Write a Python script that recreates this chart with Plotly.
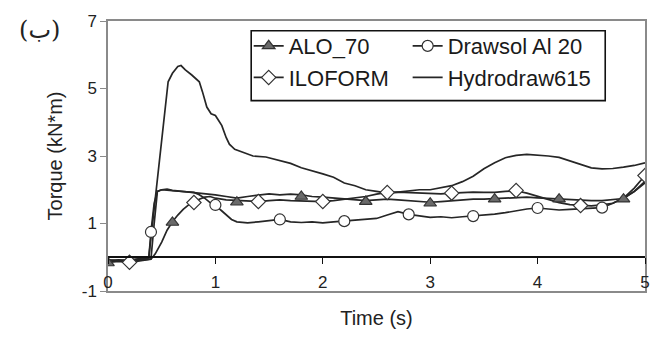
import plotly.graph_objects as go

# ---------------- data ----------------
hyd_x = [0.0, 0.1, 0.2, 0.3, 0.36, 0.38, 0.42, 0.47, 0.52, 0.56, 0.6, 0.65, 0.68, 0.72, 0.78, 0.85,
         0.88, 0.92, 0.96, 1.0, 1.03, 1.06, 1.1, 1.13, 1.18, 1.25, 1.35, 1.47, 1.6, 1.7, 1.8, 1.9,
         2.0, 2.1, 2.2, 2.3, 2.4, 2.5, 2.6, 2.7, 2.8, 2.9, 3.0, 3.1, 3.2, 3.3, 3.4, 3.5, 3.6, 3.7,
         3.8, 3.9, 4.0, 4.1, 4.2, 4.3, 4.4, 4.5, 4.6, 4.7, 4.8, 4.9, 5.0]
hyd_y = [-0.08, -0.1, -0.08, -0.05, -0.02, 0.0, 1.2, 2.5, 4.0, 5.2, 5.45, 5.65, 5.68, 5.55, 5.4, 5.2,
         4.9, 4.45, 4.25, 4.2, 4.05, 3.9, 3.55, 3.35, 3.2, 3.12, 3.0, 2.97, 2.85, 2.78, 2.65, 2.57,
         2.47, 2.37, 2.2, 2.12, 2.0, 1.95, 1.9, 1.93, 1.97, 2.0, 2.0, 2.07, 2.12, 2.24, 2.4, 2.62, 2.8, 2.95,
         3.02, 3.05, 3.03, 3.0, 2.96, 2.85, 2.74, 2.65, 2.62, 2.63, 2.67, 2.72, 2.8]

alo_x = [0.0, 0.1, 0.2, 0.3, 0.4, 0.43, 0.46, 0.5, 0.55, 0.6, 0.7, 0.8, 0.9, 1.0, 1.1, 1.2, 1.3, 1.4,
         1.5, 1.6, 1.7, 1.8, 1.9, 2.0, 2.1, 2.2, 2.3, 2.4, 2.5, 2.6, 2.7, 2.8, 2.9, 3.0, 3.1, 3.2, 3.3,
         3.4, 3.5, 3.6, 3.7, 3.8, 3.9, 4.0, 4.1, 4.2, 4.3, 4.4, 4.5, 4.6, 4.7, 4.8, 4.9, 5.0]
alo_y = [-0.12, -0.1, -0.12, -0.08, -0.05, 1.0, 1.95, 2.0, 2.02, 1.98, 1.95, 1.9, 1.88, 1.85, 1.8, 1.75, 1.8, 1.85,
         1.88, 1.85, 1.87, 1.85, 1.8, 1.78, 1.75, 1.72, 1.7, 1.68, 1.7, 1.72, 1.7, 1.68, 1.65, 1.63, 1.65, 1.68, 1.7,
         1.72, 1.72, 1.74, 1.76, 1.78, 1.78, 1.76, 1.74, 1.72, 1.7, 1.68, 1.68, 1.68, 1.7, 1.74, 1.95, 2.25]
alo_mx = [0.0, 0.6, 1.2, 1.8, 2.4, 3.0, 3.6, 4.2, 4.8]
alo_my = [-0.17, 1.03, 1.63, 1.8, 1.65, 1.6, 1.72, 1.72, 1.72]

ilo_x = [0.0, 0.1, 0.2, 0.3, 0.4, 0.44, 0.5, 0.55, 0.6, 0.65, 0.7, 0.75, 0.8, 0.85, 0.9, 0.95, 1.0, 1.1,
         1.2, 1.3, 1.4, 1.5, 1.6, 1.7, 1.8, 1.9, 2.0, 2.1, 2.2, 2.3, 2.4, 2.5, 2.6, 2.7, 2.8, 2.9, 3.0,
         3.1, 3.2, 3.3, 3.4, 3.5, 3.6, 3.7, 3.8, 3.9, 4.0, 4.1, 4.2, 4.3, 4.4, 4.5, 4.6, 4.7, 4.8, 4.9, 5.0]
ilo_y = [-0.15, -0.12, -0.15, -0.1, -0.06, 0.1, 0.45, 0.8, 1.05, 1.25, 1.42, 1.55, 1.62, 1.72, 1.78, 1.8, 1.75, 1.7,
         1.68, 1.66, 1.65, 1.68, 1.7, 1.68, 1.67, 1.65, 1.65, 1.68, 1.72, 1.75, 1.8, 1.87, 1.92, 1.93, 1.92, 1.9, 1.9,
         1.88, 1.9, 1.92, 1.93, 1.92, 1.92, 1.95, 1.97, 1.9, 1.8, 1.7, 1.62, 1.56, 1.53, 1.52, 1.55, 1.6, 1.75, 2.05, 2.42]
ilo_mx = [0.2, 0.8, 1.4, 2.0, 2.6, 3.2, 3.8, 4.4, 5.0]
ilo_my = [-0.15, 1.62, 1.65, 1.65, 1.92, 1.9, 1.98, 1.53, 2.42]

dra_x = [0.0, 0.1, 0.2, 0.3, 0.38, 0.4, 0.43, 0.46, 0.5, 0.6, 0.7, 0.8, 0.85, 0.9, 0.95, 1.0, 1.05, 1.1,
         1.15, 1.2, 1.3, 1.4, 1.5, 1.6, 1.7, 1.8, 1.9, 2.0, 2.1, 2.2, 2.3, 2.4, 2.5, 2.6, 2.7, 2.8, 2.9,
         3.0, 3.1, 3.2, 3.3, 3.4, 3.5, 3.6, 3.7, 3.8, 3.9, 4.0, 4.1, 4.2, 4.3, 4.4, 4.5, 4.6, 4.7, 4.8, 4.9, 5.0]
dra_y = [-0.1, -0.08, -0.1, -0.06, -0.02, 0.75, 1.6, 1.95, 2.0, 1.97, 1.95, 1.92, 1.85, 1.75, 1.62, 1.55, 1.4, 1.25,
         1.12, 1.05, 1.02, 1.05, 1.08, 1.12, 1.05, 1.03, 1.05, 1.02, 1.05, 1.07, 1.1, 1.12, 1.15, 1.25, 1.35, 1.27, 1.22,
         1.18, 1.2, 1.17, 1.2, 1.22, 1.25, 1.28, 1.32, 1.38, 1.43, 1.46, 1.42, 1.4, 1.42, 1.44, 1.45, 1.47, 1.6, 1.75, 1.95, 2.2]
dra_mx = [0.4, 1.0, 1.6, 2.2, 2.8, 3.4, 4.0, 4.6]
dra_my = [0.75, 1.55, 1.12, 1.07, 1.27, 1.22, 1.46, 1.47]

x_ticks = [0, 1, 2, 3, 4, 5]
y_ticks = [-1, 1, 3, 5, 7]

LINE = "#262626"
FONT = "Liberation Sans, Arial, sans-serif"

fig = go.Figure()

def line(x, y, name, legend, show=False):
    fig.add_trace(go.Scatter(x=x, y=y, mode="lines", name=name, showlegend=show,
                             legend=legend, line=dict(color=LINE, width=1.7)))

def marks(x, y, symbol, fill, size):
    fig.add_trace(go.Scatter(x=x, y=y, mode="markers", showlegend=False,
                             marker=dict(symbol=symbol, size=size, color=fill,
                                         line=dict(color="#333333", width=1.2))))

def legend_item(name, symbol, fill, size, legend, rank):
    fig.add_trace(go.Scatter(x=[None], y=[None], mode="lines+markers", name=name, legend=legend,
                             legendrank=rank,
                             line=dict(color=LINE, width=1.7),
                             marker=dict(symbol=symbol, size=size, color=fill,
                                         line=dict(color="#333333", width=1.2))))

line(hyd_x, hyd_y, "Hydrodraw615", "legend2", show=True)
fig.data[-1].legendrank = 2
line(dra_x, dra_y, "Drawsol Al 20", "legend2")
line(ilo_x, ilo_y, "ILOFORM", "legend")
line(alo_x, alo_y, "ALO_70", "legend")
marks(dra_mx, dra_my, "circle", "white", 11)
marks(ilo_mx, ilo_my, "diamond", "white", 11)
marks(alo_mx, alo_my, "triangle-up", "#6a6a6a", 11)

legend_item("ALO_70", "triangle-up", "#6a6a6a", 11, "legend", 1)
legend_item("ILOFORM", "diamond", "white", 11, "legend", 2)
legend_item("Drawsol Al 20", "circle", "white", 11, "legend2", 1)

# zero line carrying the tick marks
fig.add_trace(go.Scatter(x=[None], y=[None], xaxis="x2", showlegend=False))

legfont = dict(family=FONT, size=22, color="#1a1a1a")
fig.update_layout(
    width=662, height=338,
    margin=dict(l=108, r=14, t=16, b=44),
    paper_bgcolor="white", plot_bgcolor="white",
    font=dict(family=FONT, color="#222222"),
    xaxis=dict(range=[0, 5], tickvals=x_ticks, ticktext=[str(v) for v in x_ticks], ticks="",
               showline=True, linecolor="#8a8a8a",
               linewidth=1.5, mirror=True, showgrid=False, zeroline=False,
               ticklabelposition="inside", ticklabeloverflow="allow",
               tickfont=dict(family=FONT, size=17, color="#222222"),
               title=dict(text="Time (s)", font=dict(family=FONT, size=20, color="#222222"), standoff=20)),
    xaxis2=dict(range=[0, 5], overlaying="x", anchor="free", position=0.125, side="bottom",
                tickvals=x_ticks, ticks="outside", ticklen=6, tickcolor="#111111", tickwidth=1.3,
                showticklabels=False, showline=True, linecolor="#111111", linewidth=1.5,
                showgrid=False, zeroline=False),
    yaxis=dict(range=[-1, 7], tickvals=y_ticks, ticktext=[str(v) for v in y_ticks],
               ticks="outside", ticklen=6, tickcolor="#8a8a8a",
               showline=True, linecolor="#8a8a8a", linewidth=1.5, mirror=True,
               showgrid=False, zeroline=False,
               tickfont=dict(family=FONT, size=17, color="#222222"),
               title=dict(text="Torque (kN*m)", font=dict(family=FONT, size=20, color="#222222"), standoff=14)),
    legend=dict(x=0.262, y=0.985, xanchor="left", yanchor="top", bgcolor="rgba(0,0,0,0)",
                borderwidth=0, font=legfont, traceorder="normal", tracegroupgap=9),
    legend2=dict(x=0.558, y=0.985, xanchor="left", yanchor="top", bgcolor="rgba(0,0,0,0)",
                 borderwidth=0, font=legfont, traceorder="normal", tracegroupgap=9),
    shapes=[dict(type="rect", xref="paper", yref="paper", x0=(252 - 108) / 540, x1=(608 - 108) / 540,
                 y0=(294 - 98) / 278, y1=(294 - 26) / 278, line=dict(color="#111111", width=1.6),
                 fillcolor="white", layer="below")],
    annotations=[dict(text="(ب)", xref="paper", yref="paper", x=(16 - 108) / 540, y=(294 - 9) / 278,
                      showarrow=False, font=dict(family="DejaVu Serif, DejaVu Sans", size=24, color="#222222"))],
)

fig.write_html("out.html")
